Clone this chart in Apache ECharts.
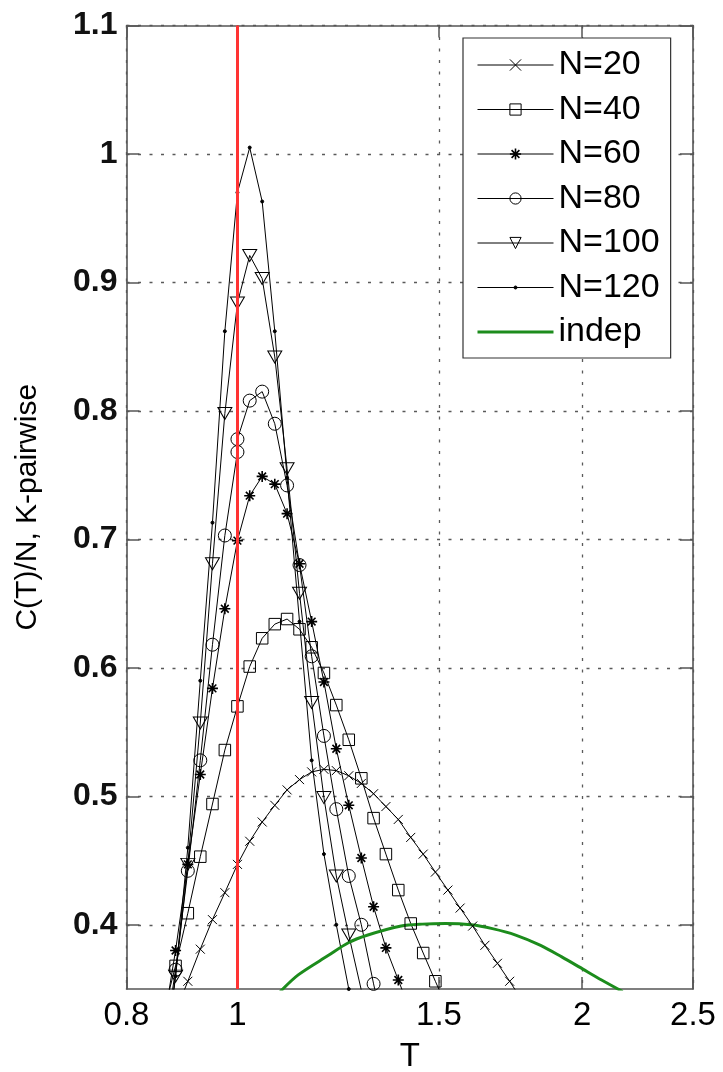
<!DOCTYPE html>
<html>
<head>
<meta charset="utf-8">
<script src="https://cdn.jsdelivr.net/npm/echarts@6/dist/echarts.min.js"></script>
<style>html,body{margin:0;padding:0;background:#fff}#chart{width:723px;height:1072px}</style>
</head>
<body>
<div id="chart"></div>
<script>
// ---- data ----
const T20 = [0.883,0.905,0.928,0.951,0.975,1.000,1.025,1.051,1.078,1.105,1.133,1.161,1.190,1.220,1.251,1.283,1.315,1.348,1.382,1.417,1.453,1.489,1.527,1.565,1.605,1.645,1.687,1.729,1.773];
const C20 = [0.332,0.356,0.381,0.404,0.425,0.447,0.465,0.480,0.493,0.505,0.513,0.519,0.521,0.520,0.516,0.510,0.502,0.492,0.482,0.468,0.455,0.441,0.427,0.413,0.399,0.384,0.370,0.356,0.341];

const T40 = [0.861,0.883,0.905,0.928,0.951,0.975,1.000,1.025,1.051,1.078,1.105,1.133,1.161,1.190,1.220,1.251,1.283,1.315,1.348,1.382,1.417,1.453,1.489,1.527];
const C40 = [0.330,0.368,0.409,0.453,0.494,0.536,0.570,0.601,0.623,0.634,0.638,0.630,0.616,0.596,0.571,0.544,0.514,0.483,0.455,0.427,0.401,0.378,0.356,0.334];

const T60 = [0.861,0.883,0.905,0.928,0.951,0.975,1.000,1.025,1.051,1.078,1.105,1.133,1.161,1.190,1.220,1.251,1.283,1.315,1.348,1.382,1.417];
const C60 = [0.320,0.380,0.447,0.517,0.584,0.646,0.699,0.734,0.749,0.743,0.720,0.681,0.636,0.589,0.537,0.493,0.452,0.414,0.382,0.357,0.332];

const T80 = [0.861,0.883,0.905,0.928,0.951,0.975,1.000,1.000,1.025,1.051,1.078,1.105,1.133,1.161,1.190,1.220,1.251,1.283,1.315,1.348];
const C80 = [0.300,0.365,0.442,0.528,0.618,0.703,0.768,0.778,0.808,0.815,0.790,0.742,0.680,0.609,0.547,0.490,0.438,0.400,0.354,0.310];

const T100 = [0.861,0.883,0.905,0.928,0.951,0.975,1.000,1.025,1.051,1.078,1.105,1.133,1.161,1.190,1.220,1.251,1.283,1.315];
const C100 = [0.290,0.360,0.447,0.557,0.681,0.798,0.884,0.921,0.903,0.842,0.755,0.658,0.573,0.499,0.438,0.392,0.349,0.310];

const T120 = [0.861,0.883,0.905,0.928,0.951,0.975,1.000,1.025,1.051,1.078,1.105,1.133,1.161,1.190,1.220,1.251,1.283];
const C120 = [0.280,0.360,0.460,0.590,0.713,0.862,0.970,1.005,0.963,0.862,0.748,0.636,0.528,0.455,0.400,0.350,0.310];

const Tind = [1.09,1.13,1.20,1.25,1.30,1.39,1.45,1.52,1.60,1.67,1.75,1.84,1.92,1.99,2.08,2.17];
const Cind = [0.348,0.361,0.376,0.386,0.392,0.399,0.4005,0.401,0.400,0.397,0.392,0.384,0.375,0.367,0.357,0.348];

const seriesNames = ['N=20','N=40','N=60','N=80','N=100','N=120','indep'];
const xTicks = [0.8, 1, 1.5, 2, 2.5];
const yTicks = [0.4, 0.5, 0.6, 0.7, 0.8, 0.9, 1.0, 1.1];
const criticalT = [1];

// ---- chart ----
const FONT = '"Liberation Sans", Arial, sans-serif';
const AX = '#555';
const GREEN = '#1c8c1c';
const pair = (ts, cs) => ts.map((t, i) => [t, cs[i]]);
const dotted = {color: '#5a5a5a', width: 1.3, type: [3, 8.5]};

function curve(name, ts, cs, symbol, size, extra) {
  return Object.assign({
    name: name, type: 'line', data: pair(ts, cs),
    symbol: symbol, symbolSize: size, showSymbol: true,
    lineStyle: {color: '#000', width: 1},
    itemStyle: {color: 'rgba(0,0,0,0)', borderColor: '#000', borderWidth: 1},
    emphasis: {disabled: true}, z: 3, clip: true
  }, extra || {});
}

const series = [
  curve(seriesNames[0], T20, C20, 'path://M0,0L10,10M10,0L0,10', 9),
  curve(seriesNames[1], T40, C40, 'rect', 11.5),
  curve(seriesNames[2], T60, C60, 'path://M5,0L5,10M0,5L10,5M1.5,1.5L8.5,8.5M8.5,1.5L1.5,8.5', 11,
        {itemStyle: {color: 'rgba(0,0,0,0)', borderColor: '#000', borderWidth: 1.6}}),
  curve(seriesNames[3], T80, C80, 'circle', 13),
  curve(seriesNames[4], T100, C100, 'triangle', [14, 12], {symbolRotate: 180}),
  curve(seriesNames[5], T120, C120, 'circle', 3,
        {itemStyle: {color: '#000', borderColor: '#000', borderWidth: 1}}),
  {
    name: seriesNames[6], type: 'line', data: pair(Tind, Cind), symbol: 'none', smooth: 0.3,
    lineStyle: {color: GREEN, width: 3}, itemStyle: {color: GREEN, borderWidth: 0},
    emphasis: {disabled: true}, z: 3, clip: true,
    markLine: {
      silent: true, symbol: ['none', 'none'], label: {show: false}, z: 4,
      lineStyle: {color: '#ff3333', width: 3, type: 'solid'},
      emphasis: {disabled: true},
      data: criticalT.map(v => ({xAxis: v}))
    }
  }
];

const option = {
  animation: false,
  backgroundColor: '#fff',
  grid: {left: 126.5, right: 30, top: 25.5, bottom: 83, containLabel: false, outerBoundsMode: 'none'},
  legend: {
    data: [seriesNames[0], seriesNames[1], seriesNames[2], seriesNames[3], seriesNames[4],
      {name: seriesNames[5], icon: 'path://M0,0L0,0M76,14L76,14M0,7L76,7M36.5,7a1.5,1.5 0 1,0 3,0a1.5,1.5 0 1,0 -3,0'},
      {name: seriesNames[6], icon: 'path://M0,0L0,0M76,14L76,14M0,5.5L76,5.5L76,8.5L0,8.5Z'}],
    orient: 'vertical', left: 463, top: 38,
    padding: [9, 11, 8, 14],
    itemWidth: 76, itemHeight: 14, itemGap: 8.5,
    selectedMode: false,
    backgroundColor: '#fff', borderColor: '#333', borderWidth: 1.2,
    itemStyle: {borderWidth: 'inherit'},
    lineStyle: {width: 'inherit'},
    textStyle: {fontFamily: FONT, fontSize: 34, lineHeight: 36, color: '#000'}
  },
  xAxis: [{
    type: 'log', logBase: 10, min: 0.8, max: 2.5, position: 'bottom',
    name: 'T', nameLocation: 'middle', nameGap: 51,
    nameTextStyle: {fontFamily: FONT, fontSize: 33, color: '#000'},
    axisLine: {show: true, onZero: false, lineStyle: {color: AX, width: 1.6}},
    axisTick: {show: true, inside: true, length: 12, customValues: xTicks, lineStyle: {color: AX, width: 1.5}},
    axisLabel: {show: true, customValues: xTicks, margin: 10, fontFamily: FONT, fontSize: 33, color: '#000',
      formatter: v => String(+(+v).toPrecision(3))},
    splitLine: {show: true, lineStyle: dotted},
    minorTick: {show: false}, minorSplitLine: {show: false}
  }, {
    type: 'log', logBase: 10, min: 0.8, max: 2.5, position: 'top',
    axisLine: {show: true, onZero: false, lineStyle: {color: AX, width: 1.6}},
    axisTick: {show: true, inside: true, length: 12, customValues: xTicks, lineStyle: {color: AX, width: 1.5}},
    axisLabel: {show: false}, splitLine: {show: false}
  }],
  yAxis: [{
    type: 'value', min: 0.35, max: 1.1, position: 'left',
    name: 'C(T)/N, K-pairwise', nameLocation: 'middle', nameGap: 84, nameRotate: 90,
    nameTextStyle: {fontFamily: FONT, fontSize: 30, color: '#000'},
    axisLine: {show: true, onZero: false, lineStyle: {color: AX, width: 1.6}},
    axisTick: {show: true, inside: true, length: 13, customValues: yTicks, lineStyle: {color: AX, width: 1.5}},
    axisLabel: {show: true, customValues: yTicks, margin: 9, fontFamily: FONT, fontSize: 32, fontWeight: 'bold', color: '#111',
      formatter: v => String(+(+v).toFixed(2))},
    splitLine: {show: true, lineStyle: dotted}
  }, {
    type: 'value', min: 0.35, max: 1.1, position: 'right',
    axisLine: {show: true, onZero: false, lineStyle: {color: AX, width: 1.6}},
    axisTick: {show: true, inside: true, length: 13, customValues: yTicks, lineStyle: {color: AX, width: 1.5}},
    axisLabel: {show: false}, splitLine: {show: false}
  }],
  series: series
};

const chart = echarts.init(document.getElementById('chart'), null, {renderer: 'canvas', width: 723, height: 1072});
chart.setOption(option);
</script>
</body>
</html>
